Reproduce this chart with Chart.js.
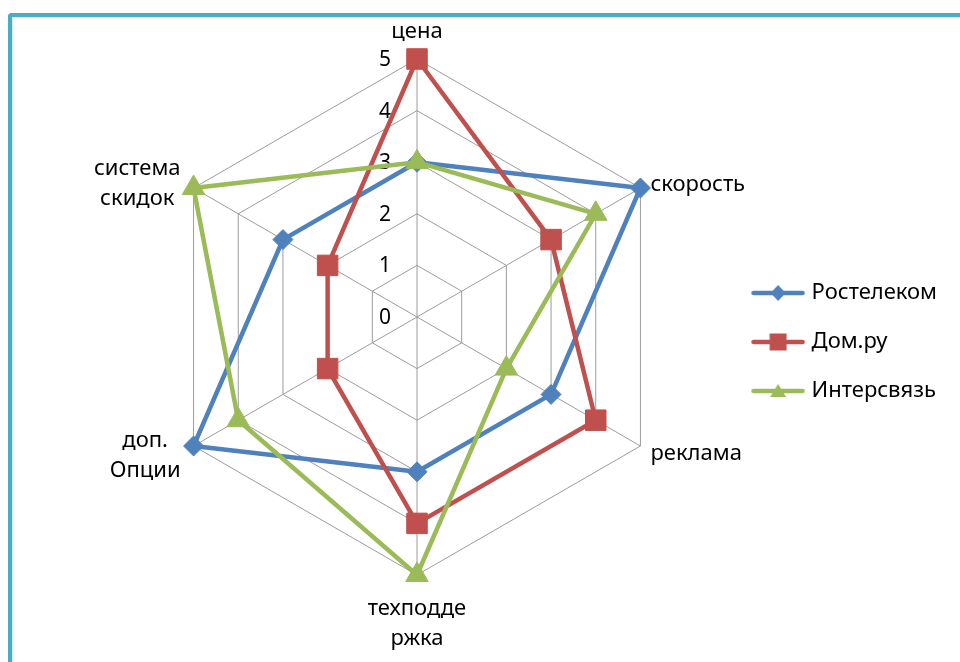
<!DOCTYPE html>
<html><head><meta charset="utf-8">
<script src="https://cdn.jsdelivr.net/npm/chart.js@4/dist/chart.umd.min.js"></script>
<style>
html,body{margin:0;padding:0;background:#fff;}
#wrap{position:relative;width:960px;height:662px;overflow:hidden;}
#frame{position:absolute;left:8px;top:13px;width:1000px;height:700px;border-left:4px solid #4BACC6;border-top:4px solid #4BACC6;border-top-left-radius:4px;box-shadow:inset 1px 1px 0 #d3ebf2;}
#c{position:absolute;left:0;top:0;}
</style></head><body>
<div id="wrap"><div id="frame"></div><canvas id="c" width="960" height="662"></canvas></div>
<script>
const categories = [['цена'], ['скорость'], ['реклама'], ['техподде', 'ржка'], ['доп.', 'Опции'], ['система', 'скидок']];
const seriesNames = ['Ростелеком', 'Дом.ру', 'Интерсвязь'];
const rostelecom = [3, 5, 3, 3, 5, 3];
const domru = [5, 3, 4, 4, 2, 2];
const intersvyaz = [3, 4, 2, 5, 4, 5];
const tickValues = [0, 1, 2, 3, 4, 5];

const COLORS = ['#4F81BD', '#C0504D', '#9BBB59'];
const FONT = '"Noto Sans", "DejaVu Sans", sans-serif';

function legendImage(color, kind) {
  const c = document.createElement('canvas');
  c.width = 54; c.height = 22;
  const g = c.getContext('2d');
  g.strokeStyle = color; g.lineWidth = 4.5; g.lineCap = 'round';
  g.beginPath(); g.moveTo(2.5, 11); g.lineTo(51.5, 11); g.stroke();
  g.fillStyle = color;
  g.beginPath();
  if (kind === 'rectRot') {
    g.moveTo(27, 3); g.lineTo(34.5, 11); g.lineTo(27, 19); g.lineTo(19.5, 11);
  } else if (kind === 'rect') {
    g.rect(18.5, 2.5, 17, 17);
  } else {
    g.moveTo(27, 4); g.lineTo(35, 17); g.lineTo(19, 17);
  }
  g.closePath(); g.fill();
  return c;
}

const styles = ['rectRot', 'rect', 'triangle'];
const radii = [10, 14.5, 13];
const values = [rostelecom, domru, intersvyaz];

const datasets = seriesNames.map((name, i) => ({
  label: name,
  data: values[i],
  borderColor: COLORS[i],
  backgroundColor: COLORS[i],
  borderWidth: 4.5,
  borderJoinStyle: 'round',
  fill: false,
  tension: 0,
  pointStyle: styles[i],
  pointRadius: radii[i],
  pointHoverRadius: radii[i],
  pointBackgroundColor: COLORS[i],
  pointBorderColor: COLORS[i],
  pointBorderWidth: 1,
  order: 3 - i,
  clip: false
}));

const tickLabelPlugin = {
  id: 'tickLabels',
  beforeDatasetsDraw(chart) {
    const s = chart.scales.r, ctx = chart.ctx;
    ctx.save();
    ctx.font = '21px ' + FONT;
    ctx.fillStyle = '#000';
    ctx.textAlign = 'right';
    ctx.textBaseline = 'middle';
    tickValues.forEach(v => {
      const y = s.yCenter - s.getDistanceFromCenterForValue(v);
      ctx.fillText(String(v), s.xCenter - 26, y + 1);
    });
    ctx.restore();
  }
};

const pointLabelPlugin = {
  id: 'pointLabelsCustom',
  afterDatasetsDraw(chart) {
    const s = chart.scales.r, ctx = chart.ctx;
    ctx.save();
    ctx.font = '22px ' + FONT;
    ctx.fillStyle = '#000';
    ctx.textBaseline = 'alphabetic';
    const LH = 30;
    chart.data.labels.forEach((lines, i) => {
      const p = s.getPointPosition(i, s.drawingArea);
      const dx = p.x - s.xCenter, dy = p.y - s.yCenter;
      if (Math.abs(dx) < 1) {
        ctx.textAlign = 'center';
        if (dy < 0) {
          lines.forEach((t, k) => ctx.fillText(t, p.x, p.y - 21 - (lines.length - 1 - k) * LH));
        } else {
          lines.forEach((t, k) => ctx.fillText(t, p.x, p.y + 40 + k * LH));
        }
      } else if (dx > 0) {
        ctx.textAlign = 'left';
        const base = dy < 0 ? p.y + 3 : p.y + 14;
        lines.forEach((t, k) => ctx.fillText(t, p.x + 10, base + k * LH));
      } else {
        ctx.textAlign = 'center';
        const w = Math.max(...lines.map(t => ctx.measureText(t).width));
        const cx = p.x - 13 - w / 2;
        const base = dy < 0 ? p.y - 13 : p.y + 1;
        lines.forEach((t, k) => ctx.fillText(t, cx, base + k * LH));
      }
    });
    ctx.restore();
  }
};

new Chart(document.getElementById('c'), {
  type: 'radar',
  data: { labels: categories, datasets: datasets },
  options: {
    responsive: false,
    animation: false,
    layout: { padding: { left: 106, right: 13, top: 59, bottom: 87 } },
    scales: {
      r: {
        min: 0, max: 5,
        ticks: { display: false, stepSize: 1 },
        pointLabels: { display: false },
        grid: { color: '#9c9c9c', lineWidth: 1 },
        angleLines: { color: '#9c9c9c', lineWidth: 1 }
      }
    },
    plugins: {
      tooltip: { enabled: false },
      legend: {
        position: 'right',
        align: 'start',
        title: { display: true, text: ' ', font: { size: 10 }, padding: { top: 184, bottom: 0 } },
        labels: {
          usePointStyle: true,
          pointStyleWidth: 45,
          padding: 27,
          color: '#000',
          font: { family: FONT, size: 22 },
          generateLabels(chart) {
            return chart.data.datasets.map((d, i) => ({
              text: d.label,
              pointStyle: legendImage(COLORS[i], styles[i]),
              fillStyle: COLORS[i],
              strokeStyle: COLORS[i],
              lineWidth: 0,
              hidden: false,
              datasetIndex: i,
              fontColor: '#000'
            }));
          }
        }
      }
    }
  },
  plugins: [tickLabelPlugin, pointLabelPlugin]
});
</script>
</body></html>
